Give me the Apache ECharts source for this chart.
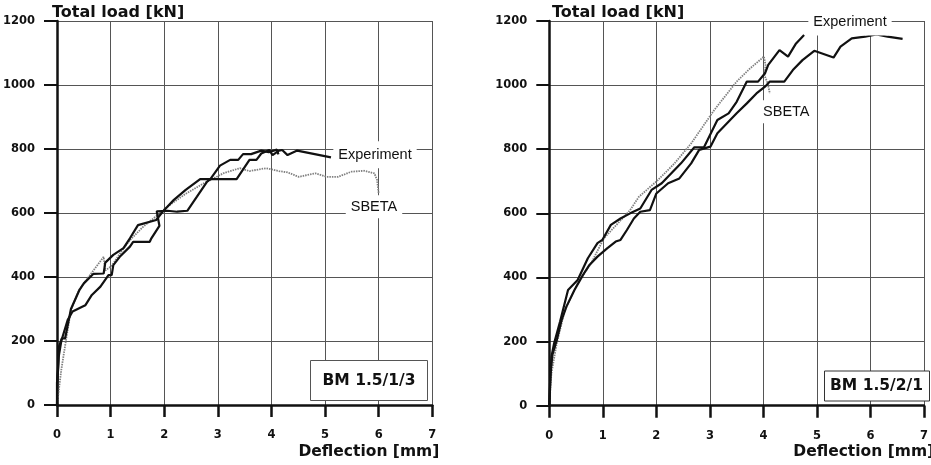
<!DOCTYPE html>
<html><head><meta charset="utf-8">
<script src="https://cdn.jsdelivr.net/npm/echarts@6/dist/echarts.min.js"></script>
<style>html,body{margin:0;padding:0;background:#fff}#c{width:931px;height:465px}</style>
</head><body><div id="c"></div>
<script>
// ---- tick labels / texts ----
const loadTicks = [0, 200, 400, 600, 800, 1000, 1200];
const deflTicks = [0, 1, 2, 3, 4, 5, 6, 7];
const yAxisTitle = 'Total load [kN]';
const xAxisTitle = 'Deflection [mm]';
const panelNames = ['BM 1.5/1/3', 'BM 1.5/2/1'];
const seriesNames = ['Experiment', 'SBETA'];

// ---- BM 1.5/1/3 : [deflection mm, load kN] ----
const bm113Exp1 = [[0,0],[0,70],[0.02,110],[0.04,185],[0.09,208],[0.15,208],[0.26,300],[0.42,360],[0.5,380],[0.68,410],[0.87,411],[0.9,445],[1.05,469],[1.24,490],[1.36,521],[1.51,562],[1.85,578],[1.97,604],[2.18,641],[2.4,672],[2.67,706],[2.86,706],[3.04,748],[3.23,766],[3.38,766],[3.47,784],[3.62,784],[3.81,795],[3.95,790],[4.1,798],[4.13,783]];
const bm113Exp2 = [[0,0],[0.01,90],[0.03,150],[0.08,200],[0.2,266],[0.29,292],[0.47,307],[0.53,312],[0.65,344],[0.81,370],[0.96,406],[1.02,406],[1.05,437],[1.17,463],[1.36,495],[1.42,510],[1.73,510],[1.76,521],[1.91,560],[1.86,605],[2.06,607],[2.24,604],[2.43,607],[2.61,651],[2.8,698],[2.86,706],[3.35,706],[3.59,766],[3.72,766],[3.81,786],[3.96,797],[4.02,781],[4.14,795],[4.2,797],[4.3,781],[4.48,795],[5.11,774]];
const bm113Sbeta = [[0,0],[0.08,110],[0.17,205],[0.26,297],[0.41,359],[0.5,380],[0.65,414],[0.87,463],[0.9,420],[1.02,435],[1.2,480],[1.36,515],[1.6,556],[1.85,590],[2.06,620],[2.4,660],[2.74,693],[2.92,708],[3.1,724],[3.41,740],[3.59,731],[3.9,740],[4.14,731],[4.3,727],[4.51,713],[4.82,724],[5.03,713],[5.24,713],[5.49,729],[5.73,732],[5.92,724],[5.97,703],[6.0,661]];

// ---- BM 1.5/2/1 ----
const bm121Exp1 = [[0,0],[0.02,80],[0.04,153],[0.09,195],[0.2,262],[0.35,361],[0.53,392],[0.72,460],[0.9,507],[0.99,517],[1.15,564],[1.33,584],[1.51,600],[1.7,615],[1.91,673],[2.1,694],[2.46,756],[2.71,806],[2.89,806],[3.14,891],[3.35,912],[3.5,948],[3.69,1011],[3.9,1011],[4.03,1037],[4.09,1063],[4.3,1109],[4.46,1089],[4.61,1130],[4.76,1156]];
const bm121Exp2 = [[0,0],[0.02,100],[0.06,160],[0.14,205],[0.23,267],[0.32,309],[0.47,361],[0.63,408],[0.75,439],[0.9,465],[1.08,491],[1.24,512],[1.33,517],[1.45,548],[1.58,584],[1.7,605],[1.88,610],[2.0,662],[2.22,694],[2.43,709],[2.65,756],[2.8,798],[3.01,808],[3.14,850],[3.32,881],[3.5,912],[3.69,943],[3.87,974],[4.03,995],[4.12,1011],[4.39,1011],[4.55,1047],[4.73,1078],[4.95,1107],[5.31,1086],[5.44,1120],[5.65,1146],[5.9,1151],[6.11,1158],[6.32,1151],[6.6,1144]];
const bm121Sbeta = [[0,0],[0.04,101],[0.14,195],[0.29,298],[0.53,382],[0.78,444],[1.02,522],[1.51,610],[1.67,651],[2.03,704],[2.34,756],[2.65,818],[3.08,922],[3.5,1011],[3.75,1052],[4.01,1089],[4.04,1063],[4.02,1030],[4.08,1006],[4.12,974]];

const INK = '#111';
const GRIDC = '#555';
const bold = 'DejaVu Sans';
const reg = 'Liberation Sans';

function xAx(i) {
  return {
    gridIndex: i, type: 'value',
    min: deflTicks[0], max: deflTicks[deflTicks.length - 1], interval: deflTicks[1] - deflTicks[0],
    axisLine: { show: true, onZero: false, lineStyle: { color: INK, width: 2.5 } },
    axisTick: { show: true, length: 12, lineStyle: { color: INK, width: 2.5 } },
    axisLabel: { margin: 24, color: INK, fontFamily: bold, fontWeight: 'bold', fontSize: 11.5, hideOverlap: false,
      formatter: v => String(v) },
    splitLine: { show: true, lineStyle: { color: GRIDC, width: 1 } }
  };
}
function yAx(i) {
  return {
    gridIndex: i, type: 'value',
    min: loadTicks[0], max: loadTicks[loadTicks.length - 1], interval: loadTicks[1] - loadTicks[0],
    axisLine: { show: true, onZero: false, lineStyle: { color: INK, width: 2.5 } },
    axisTick: { show: true, length: 13, lineStyle: { color: INK, width: 2 } },
    axisLabel: { margin: 22, color: INK, fontFamily: bold, fontWeight: 'bold', fontSize: 11.5, hideOverlap: false,
      formatter: v => String(v) },
    splitLine: { show: true, lineStyle: { color: GRIDC, width: 1 } }
  };
}
function expSeries(data, i) {
  return { type: 'line', name: seriesNames[0], xAxisIndex: i, yAxisIndex: i, data: data,
    showSymbol: false, symbol: 'none', silent: true, animation: false, z: 3,
    lineStyle: { color: INK, width: 2.2 } };
}
function sbSeries(data, i) {
  return { type: 'line', name: seriesNames[1], xAxisIndex: i, yAxisIndex: i, data: data,
    showSymbol: false, symbol: 'none', silent: true, animation: false, z: 2,
    lineStyle: { color: '#808080', width: 1.8, type: [1.5, 1] } };
}
function txt(x, y, text, font, size, weight, align, extra) {
  return Object.assign({ type: 'text', x: x, y: y, z: 100,
    style: Object.assign({ text: text, fill: INK, fontFamily: font, fontSize: size, fontWeight: weight,
      align: align, verticalAlign: 'middle' }, extra || {}) });
}
const lbl = { backgroundColor: '#fff', padding: [6, 5] };

const chart = echarts.init(document.getElementById('c'), null, { renderer: 'canvas' });
chart.setOption({
  backgroundColor: '#fff',
  animation: false,
  grid: [
    { left: 51, top: 21, width: 381.3, height: 384 },
    { left: 549.3, top: 21, width: 380.8, height: 384.7 }
  ],
  xAxis: [xAx(0), xAx(1)],
  yAxis: [yAx(0), yAx(1)],
  series: [
    sbSeries(bm113Sbeta, 0), expSeries(bm113Exp1, 0), expSeries(bm113Exp2, 0),
    sbSeries(bm121Sbeta, 1), expSeries(bm121Exp1, 1), expSeries(bm121Exp2, 1)
  ],
  graphic: [
    txt(52, 12.5, yAxisTitle, bold, 16, 'bold', 'left'),
    txt(552, 12.5, yAxisTitle, bold, 16, 'bold', 'left'),
    txt(439.3, 451.5, xAxisTitle, bold, 15.5, 'bold', 'right'),
    txt(793.3, 451.5, xAxisTitle, bold, 15.5, 'bold', 'left'),
    txt(375, 154.7, seriesNames[0], reg, 14.5, 'normal', 'center', lbl),
    txt(374, 206.7, seriesNames[1], reg, 14.5, 'normal', 'center', { backgroundColor: '#fff', padding: [4, 5] }),
    txt(850, 22, seriesNames[0], reg, 14.5, 'normal', 'center', lbl),
    txt(786.3, 111.7, seriesNames[1], reg, 14.5, 'normal', 'center', { backgroundColor: '#fff', padding: [4, 5] }),
    { type: 'rect', z: 99, shape: { x: 310.5, y: 360.5, width: 117, height: 40 }, style: { fill: '#fff', stroke: '#555', lineWidth: 1 } },
    txt(369, 380.5, panelNames[0], bold, 15.5, 'bold', 'center'),
    { type: 'rect', z: 99, shape: { x: 824.5, y: 371, width: 105, height: 30 }, style: { fill: '#fff', stroke: '#333', lineWidth: 1 } },
    txt(876.5, 386, panelNames[1], bold, 15.5, 'bold', 'center')
  ]
});
</script></body></html>
